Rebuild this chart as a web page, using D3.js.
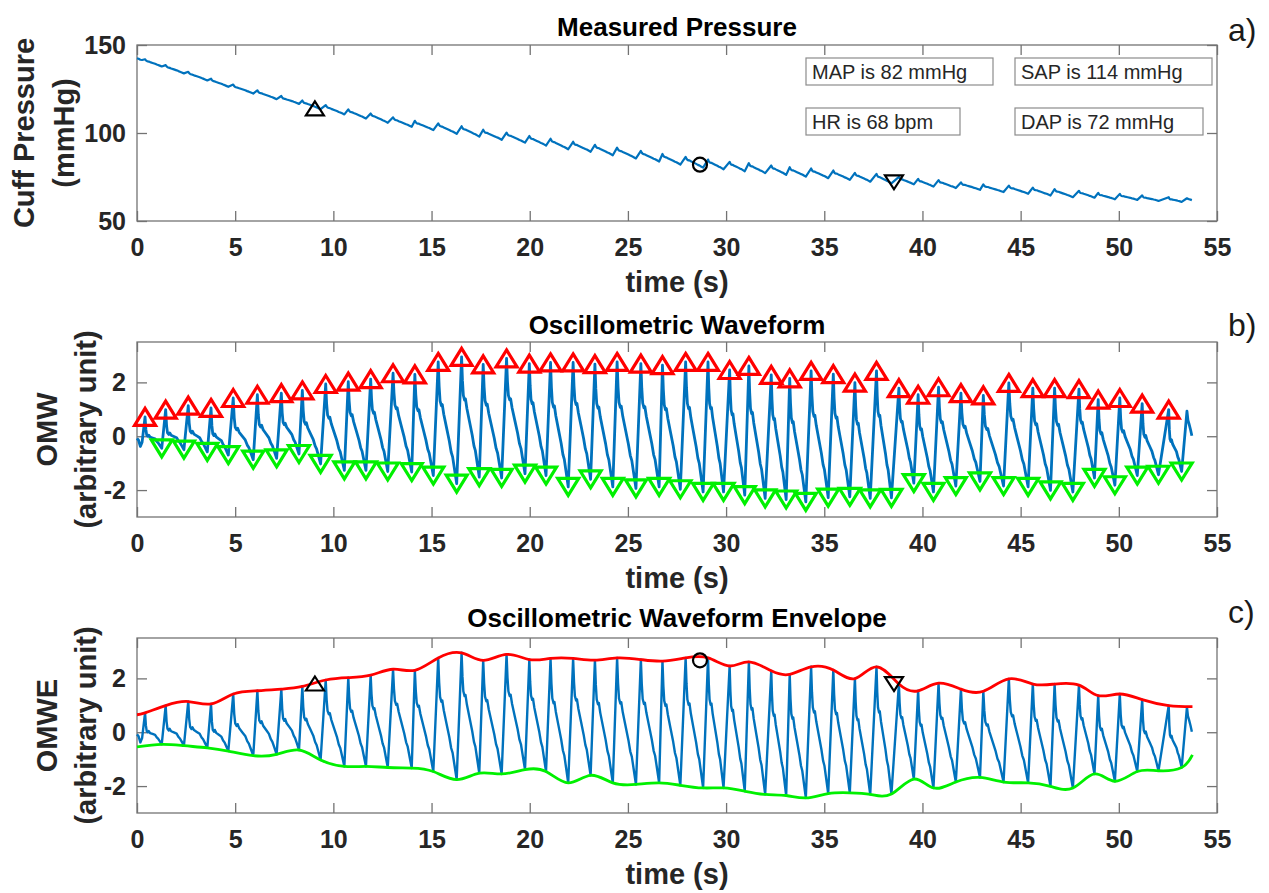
<!DOCTYPE html>
<html>
<head>
<meta charset="utf-8">
<script src="https://cdn.jsdelivr.net/npm/d3@7"></script>
<style>
  body { margin: 0; background: #fff; }
  svg { display: block; font-family: "Liberation Sans", Arial, sans-serif; }
</style>
</head>
<body>
<div id="chart"></div>
<script>
// ---- data ----
const X_TICKS = [0, 5, 10, 15, 20, 25, 30, 35, 40, 45, 50, 55];
const P_TICKS = [50, 100, 150];
const OMW_TICKS = [-2, 0, 2];

// beat maxima (red) and minima (green), seconds / arbitrary unit
const PEAK_T = [0.41, 1.46, 2.61, 3.77, 4.90, 6.13, 7.35, 8.42, 9.61, 10.76, 11.90, 13.04, 14.15, 15.34, 16.53, 17.63,
  18.82, 19.98, 21.06, 22.21, 23.32, 24.45, 25.66, 26.76, 27.94, 29.08, 30.18, 31.16, 32.30, 33.24, 34.33, 35.46,
  36.56, 37.66, 38.80, 39.78, 40.82, 41.96, 43.10, 44.40, 45.62, 46.73, 47.97, 48.95, 50.05, 51.19, 52.54];
const PEAK_V = [0.72, 0.99, 1.14, 1.05, 1.42, 1.54, 1.60, 1.70, 1.94, 2.03, 2.12, 2.34, 2.30, 2.76, 2.95, 2.67,
  2.89, 2.70, 2.74, 2.74, 2.68, 2.76, 2.70, 2.64, 2.76, 2.76, 2.46, 2.61, 2.28, 2.15, 2.43, 2.31,
  1.99, 2.43, 1.79, 1.54, 1.82, 1.60, 1.52, 1.98, 1.79, 1.79, 1.75, 1.36, 1.42, 1.21, 0.99];
const TROUGH_T = [1.26, 2.39, 3.58, 4.65, 5.92, 7.11, 8.25, 9.35, 10.56, 11.66, 12.77, 13.99, 15.09, 16.28, 17.43, 18.57,
  19.76, 20.83, 21.96, 23.10, 24.23, 25.41, 26.59, 27.67, 28.83, 29.87, 30.95, 31.99, 33.06, 34.06, 35.20, 36.30,
  37.34, 38.42, 39.56, 40.56, 41.70, 42.93, 44.13, 45.38, 46.52, 47.66, 48.76, 49.80, 50.94, 52.02, 53.20];
const TROUGH_V = [-0.45, -0.50, -0.58, -0.70, -0.87, -0.82, -0.66, -1.03, -1.27, -1.27, -1.31, -1.33, -1.46, -1.76, -1.52, -1.55,
  -1.39, -1.46, -1.88, -1.60, -1.88, -1.94, -1.88, -1.97, -2.07, -2.07, -2.19, -2.31, -2.35, -2.44, -2.28, -2.25,
  -2.31, -2.29, -1.74, -2.07, -1.85, -1.68, -1.85, -1.88, -2.01, -2.07, -1.55, -1.82, -1.46, -1.43, -1.31];

// shape of one beat between its peak (phase 0) and the following trough (phase 1), level as fraction of the swing
const BEAT_PHASE = [0, 0.05, 0.10, 0.17, 0.22, 0.30, 0.45, 0.60, 0.70, 0.78, 0.88, 1];
const BEAT_LARGE = [1, 0.80, 0.68, 0.64, 0.65, 0.57, 0.46, 0.35, 0.26, 0.22, 0.12, 0];
const BEAT_SMALL = [1, 0.60, 0.42, 0.38, 0.42, 0.36, 0.33, 0.30, 0.22, 0.18, 0.10, 0];

// trace before the first marked peak and after the last marked trough
const START_TRACE = [[0, -0.08], [0.08, -0.15], [0.17, -0.38], [0.26, -0.22]];
const END_TRACE = [[53.47, 0.93], [53.52, 0.60], [53.58, 0.45], [53.65, 0.25], [53.72, 0.02]];

// envelope end values (panel c)
const ENV_T = [0, 53.75];
const UPPER_ENDS = [0.65, 0.95];
const LOWER_ENDS = [-0.54, -0.84];

// cuff pressure baseline (mmHg), and how much of the oscillation rides on it
const BASE_T = [0, 2.5, 5, 7.5, 10, 13.4, 18.5, 23.6, 28.7, 33.8, 38.9, 44.0, 49.0, 53.8];
const BASE_P = [142.6, 134.0, 125.8, 119.0, 113.0, 105.8, 97.8, 90.2, 82.5, 77.9, 73.2, 68.4, 64.6, 61.8];
const PRESSURE_GAIN = 1.0;

// estimated pressures and their positions
const EST_NAMES = ['MAP', 'SAP', 'HR', 'DAP'];
const EST_VALUES = [82, 114, 68, 72];
const EST_UNITS = ['mmHg', 'mmHg', 'bpm', 'mmHg'];
const SAP_T = 9.06, MAP_T = 28.67, DAP_T = 38.55;
const ENV_MARK_V = [1.81, 2.67, 1.79]; // SAP, MAP, DAP on the envelope

// ---- layout ----
const W = 1269, H = 893;
const X0 = 137, X1 = 1217;
const BLUE = '#0072bd', RED = '#ff0000', GREEN = '#00f000';
const AXIS = '#737373', INK = '#262626';

const svg = d3.select('#chart').append('svg').attr('width', W).attr('height', H);

const x = d3.scaleLinear().domain([0, 55]).range([X0, X1]);

const panels = [
  { top: 45, bottom: 221, domain: [50, 150], ticks: P_TICKS, title: 'Measured Pressure', titleY: 27, tag: 'a)', tagY: 30,
    ylab: ['Cuff Pressure', '(mmHg)'], ylabX: [24, 64] },
  { top: 342, bottom: 517, domain: [-3, 3.5], ticks: OMW_TICKS, title: 'Oscillometric Waveform', titleY: 325, tag: 'b)', tagY: 325,
    ylab: ['OMW', '(arbitrary unit)'], ylabX: [47, 86] },
  { top: 638, bottom: 813, domain: [-3, 3.5], ticks: OMW_TICKS, title: 'Oscillometric Waveform Envelope', titleY: 618, tag: 'c)', tagY: 612,
    ylab: ['OMWE', '(arbitrary unit)'], ylabX: [47, 86] }
];
panels.forEach(p => { p.y = d3.scaleLinear().domain(p.domain).range([p.bottom, p.top]); });

// ---- build the waveform from the beats ----
function buildTrace() {
  const pts = START_TRACE.map(d => d.slice());
  PEAK_T.forEach((tp, i) => {
    const vp = PEAK_V[i], tt = TROUGH_T[i], vt = TROUGH_V[i];
    const swing = vp - vt;
    const w = Math.max(0, Math.min(1, (swing - 1.5) / 2));
    BEAT_PHASE.forEach((ph, j) => {
      const f = (1 - w) * BEAT_SMALL[j] + w * BEAT_LARGE[j];
      pts.push([tp + ph * (tt - tp), vt + f * swing]);
    });
  });
  END_TRACE.forEach(d => pts.push(d.slice()));
  return pts;
}
const omw = buildTrace();
const baseline = d3.scaleLinear().domain(BASE_T).range(BASE_P);
const pressure = omw.map(([t, v]) => [t, baseline(t) + PRESSURE_GAIN * v]);

const peaks = PEAK_T.map((t, i) => [t, PEAK_V[i]]);
const troughs = TROUGH_T.map((t, i) => [t, TROUGH_V[i]]);
const upper = [[ENV_T[0], UPPER_ENDS[0]], ...peaks, [ENV_T[1], UPPER_ENDS[1]]];
const lower = [[ENV_T[0], LOWER_ENDS[0]], ...troughs, [ENV_T[1], LOWER_ENDS[1]]];

// ---- markers ----
const triUp = (w, h) => `M0,${-h / 2}L${w / 2},${h / 2}L${-w / 2},${h / 2}Z`;
const triDown = (w, h) => `M0,${h / 2}L${w / 2},${-h / 2}L${-w / 2},${-h / 2}Z`;

// ---- frames ----
panels.forEach(p => {
  const g = svg.append('g');

  const axes = [
    [d3.axisBottom(x).tickValues(X_TICKS).tickFormat(d => String(d)).tickPadding(17), `translate(0,${p.bottom})`],
    [d3.axisTop(x).tickValues(X_TICKS).tickFormat(''), `translate(0,${p.top})`],
    [d3.axisLeft(p.y).tickValues(p.ticks).tickFormat(d => String(d)).tickPadding(11), `translate(${X0},0)`],
    [d3.axisRight(p.y).tickValues(p.ticks).tickFormat(''), `translate(${X1},0)`]
  ];
  axes.forEach(([ax, tr]) => {
    const a = g.append('g').attr('transform', tr)
      .call(ax.tickSizeInner(-10).tickSizeOuter(0));
    a.select('.domain').remove();
    a.selectAll('.tick line').attr('stroke', AXIS).attr('stroke-width', 1.3);
    a.selectAll('.tick text')
      .attr('fill', INK)
      .attr('font-size', 25)
      .attr('font-weight', 'bold');
  });

  g.append('rect')
    .attr('x', X0).attr('y', p.top)
    .attr('width', X1 - X0).attr('height', p.bottom - p.top)
    .attr('fill', 'none').attr('stroke', AXIS).attr('stroke-width', 1.3);

  g.append('text')
    .attr('x', (X0 + X1) / 2).attr('y', p.titleY)
    .attr('text-anchor', 'middle').attr('dominant-baseline', 'central')
    .attr('font-size', 26).attr('font-weight', 'bold').attr('fill', '#000')
    .text(p.title);

  g.append('text')
    .attr('x', (X0 + X1) / 2).attr('y', p.bottom + 61)
    .attr('text-anchor', 'middle').attr('dominant-baseline', 'central')
    .attr('font-size', 29).attr('font-weight', 'bold').attr('fill', INK)
    .text('time (s)');

  p.ylab.forEach((s, i) => {
    g.append('text')
      .attr('transform', `translate(${p.ylabX[i]},${(p.top + p.bottom) / 2}) rotate(-90)`)
      .attr('text-anchor', 'middle').attr('dominant-baseline', 'central')
      .attr('font-size', 29).attr('font-weight', 'bold').attr('fill', INK)
      .text(s);
  });

  g.append('text')
    .attr('x', 1228).attr('y', p.tagY)
    .attr('dominant-baseline', 'central')
    .attr('font-size', 32).attr('fill', '#1a1a1a')
    .text(p.tag);
});

// ---- panel a: measured pressure ----
{
  const p = panels[0];
  const line = d3.line().x(d => x(d[0])).y(d => p.y(d[1]));
  svg.append('path').datum(pressure)
    .attr('d', line).attr('fill', 'none')
    .attr('stroke', BLUE).attr('stroke-width', 2.2).attr('stroke-linejoin', 'round');

  const m = svg.append('g').attr('fill', 'none').attr('stroke', '#000').attr('stroke-width', 2.2);
  m.append('path').attr('d', triUp(18, 14))
    .attr('transform', `translate(${x(SAP_T)},${p.y(EST_VALUES[1])})`);
  m.append('circle').attr('r', 7)
    .attr('cx', x(MAP_T)).attr('cy', p.y(EST_VALUES[0]));
  m.append('path').attr('d', triDown(18, 14))
    .attr('transform', `translate(${x(DAP_T)},${p.y(EST_VALUES[3])})`);

  const boxes = [
    { x: 806, y: 58, w: 187 }, { x: 1015, y: 58, w: 197 },
    { x: 806, y: 108, w: 154 }, { x: 1015, y: 108, w: 188 }
  ];
  boxes.forEach((b, i) => {
    svg.append('rect').attr('x', b.x).attr('y', b.y).attr('width', b.w).attr('height', 27)
      .attr('fill', '#fff').attr('stroke', '#8c8c8c').attr('stroke-width', 1.2);
    svg.append('text').attr('x', b.x + 6).attr('y', b.y + 14)
      .attr('dominant-baseline', 'central').attr('font-size', 20).attr('fill', INK)
      .text(`${EST_NAMES[i]} is ${EST_VALUES[i]} ${EST_UNITS[i]}`);
  });
}

// ---- panel b: oscillometric waveform with beat markers ----
{
  const p = panels[1];
  const line = d3.line().x(d => x(d[0])).y(d => p.y(d[1]));
  svg.append('path').datum(omw)
    .attr('d', line).attr('fill', 'none')
    .attr('stroke', BLUE).attr('stroke-width', 2.8).attr('stroke-linejoin', 'round');

  svg.append('g').attr('fill', 'none').attr('stroke', RED).attr('stroke-width', 3.2)
    .selectAll('path').data(peaks).join('path')
    .attr('d', triUp(21, 17))
    .attr('transform', d => `translate(${x(d[0])},${p.y(d[1])})`);

  svg.append('g').attr('fill', 'none').attr('stroke', GREEN).attr('stroke-width', 3.2)
    .selectAll('path').data(troughs).join('path')
    .attr('d', triDown(21, 17))
    .attr('transform', d => `translate(${x(d[0])},${p.y(d[1])})`);
}

// ---- panel c: envelope ----
{
  const p = panels[2];
  const line = d3.line().x(d => x(d[0])).y(d => p.y(d[1]));
  const smooth = d3.line().curve(d3.curveNatural).x(d => x(d[0])).y(d => p.y(d[1]));
  svg.append('path').datum(omw)
    .attr('d', line).attr('fill', 'none')
    .attr('stroke', BLUE).attr('stroke-width', 2.4).attr('stroke-linejoin', 'round');
  svg.append('path').datum(upper)
    .attr('d', smooth).attr('fill', 'none').attr('stroke', RED).attr('stroke-width', 2.8);
  svg.append('path').datum(lower)
    .attr('d', smooth).attr('fill', 'none').attr('stroke', GREEN).attr('stroke-width', 2.8);

  const m = svg.append('g').attr('fill', 'none').attr('stroke', '#000').attr('stroke-width', 2.2);
  m.append('path').attr('d', triUp(18, 14))
    .attr('transform', `translate(${x(SAP_T)},${p.y(ENV_MARK_V[0])})`);
  m.append('circle').attr('r', 7)
    .attr('cx', x(MAP_T)).attr('cy', p.y(ENV_MARK_V[1]));
  m.append('path').attr('d', triDown(18, 14))
    .attr('transform', `translate(${x(DAP_T)},${p.y(ENV_MARK_V[2])})`);
}
</script>
</body>
</html>
